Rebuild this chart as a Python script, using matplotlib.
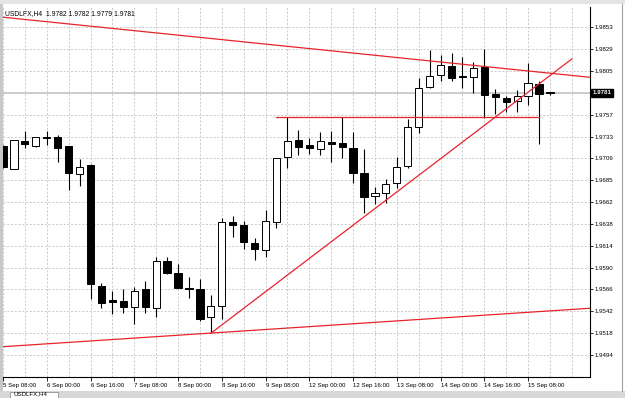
import matplotlib

matplotlib.use("Agg")
import matplotlib.pyplot as plt
import numpy as np
from matplotlib.patches import Rectangle

# ---- data: USDLFX H4 candles (bar index = position on chart) ----
opens = [1.97230, 1.96981, 1.97284, 1.97230, 1.97325, 1.97332, 1.97230, 1.96923, 1.97021, 1.95699,
         1.95543, 1.95532, 1.95469, 1.95660, 1.95452, 1.95973, 1.95835, 1.95676, 1.95660, 1.95353,
         1.95477, 1.96400, 1.96364, 1.96170, 1.96090, 1.96400, 1.97106, 1.97295, 1.97241, 1.97197,
         1.97270, 1.97259, 1.97211, 1.96931, 1.96682, 1.96711, 1.96828, 1.97010, 1.97435, 1.97873,
         1.98007, 1.98106, 1.97996, 1.97989, 1.98098, 1.97799, 1.97759, 1.97723, 1.97777, 1.97906,
         1.97820]
highs = [1.97240, 1.97300, 1.97390, 1.97330, 1.97389, 1.97350, 1.97230, 1.97084, 1.97029, 1.95726,
         1.95641, 1.95660, 1.95688, 1.95751, 1.96017, 1.96010, 1.95937, 1.95791, 1.95773, 1.95597,
         1.96438, 1.96463, 1.96411, 1.96225, 1.96529, 1.97098, 1.97544, 1.97405, 1.97321, 1.97380,
         1.97394, 1.97551, 1.97380, 1.97193, 1.96777, 1.96868, 1.97112, 1.97522, 1.97978, 1.98281,
         1.98227, 1.98252, 1.98208, 1.98153, 1.98289, 1.97851, 1.97777, 1.97843, 1.98142, 1.97945,
         1.97820]
lows = [1.96990, 1.96975, 1.97205, 1.97220, 1.97241, 1.97051, 1.96748, 1.96795, 1.95550, 1.95458,
        1.95386, 1.95397, 1.95276, 1.95397, 1.95360, 1.95827, 1.95674, 1.95568, 1.95316, 1.95181,
        1.95334, 1.96229, 1.96101, 1.95981, 1.96017, 1.96335, 1.96985, 1.97131, 1.97142, 1.97131,
        1.97051, 1.97095, 1.96828, 1.96492, 1.96594, 1.96609, 1.96766, 1.96985, 1.97369, 1.97860,
        1.97942, 1.97942, 1.97862, 1.97807, 1.97533, 1.97577, 1.97605, 1.97605, 1.97679, 1.97248,
        1.97790]
closes = [1.97000, 1.97295, 1.97248, 1.97325, 1.97314, 1.97204, 1.96937, 1.96996, 1.95718, 1.95506,
          1.95521, 1.95463, 1.95645, 1.95463, 1.95973, 1.95842, 1.95677, 1.95666, 1.95334, 1.95480,
          1.96394, 1.96364, 1.96181, 1.96098, 1.96408, 1.97095, 1.97284, 1.97222, 1.97204, 1.97284,
          1.97252, 1.97222, 1.96931, 1.96674, 1.96711, 1.96813, 1.96996, 1.97441, 1.97862, 1.97996,
          1.98117, 1.97978, 1.97982, 1.98087, 1.97788, 1.97763, 1.97715, 1.97781, 1.97917, 1.97799,
          1.97810]

time_ticks = [0, 4, 8, 12, 16, 20, 24, 28, 32, 36, 40, 44, 48]
time_labels = ["5 Sep 08:00", "6 Sep 00:00", "6 Sep 16:00", "7 Sep 08:00", "8 Sep 00:00",
               "8 Sep 16:00", "9 Sep 08:00", "12 Sep 00:00", "12 Sep 16:00", "13 Sep 08:00",
               "14 Sep 00:00", "14 Sep 16:00", "15 Sep 08:00"]
price_labels = ["1.9853", "1.9829", "1.9805", "1.9781", "1.9757", "1.9733", "1.9709", "1.9685",
                "1.9662", "1.9638", "1.9614", "1.9590", "1.9566", "1.9542", "1.9518", "1.9494"]
price_top, price_step = 1.9853, 0.0359 / 15

# trendlines: (bar index, price) pairs
trend_down = ([0, 53.66], [1.98640, 1.97982])
trend_low = ([0, 53.66], [1.95031, 1.95452])
trend_up = ([19, 52], [1.95178, 1.98183])
level = ([25, 49], [1.97547, 1.97547])

bid = 1.9781
title = "USDLFX,H4  1.9782 1.9782 1.9779 1.9781"

# ---- figure ----
W, H = 625, 398
fig = plt.figure(figsize=(W / 100, H / 100), dpi=100)
fig.patch.set_facecolor("white")
ax = fig.add_axes([3 / W, 1 - 377 / H, 587 / W, 370 / H])
ax.set_xlim(0, 53.66)
ax.set_ylim(1.94699, 1.98752)
ax.set_facecolor("white")

fnt = dict(family="Liberation Sans", size=4.4)

# grid
yt = [price_top - k * price_step for k in range(len(price_labels))]
ax.set_yticks(yt)
ax.set_yticklabels(price_labels, **fnt)
ax.set_xticks(time_ticks)
ax.set_xticklabels(time_labels, **fnt)
ax.set_xticks(np.arange(0, 54, 2), minor=True)
ax.grid(True, which="both", color="#c4c4c4", linestyle=(0, (2.5, 2)), linewidth=0.6, zorder=0)
ax.yaxis.tick_right()
ax.tick_params(axis="y", which="major", length=2, width=0.6, pad=1, direction="out")
ax.tick_params(axis="x", which="major", length=3, width=0.6, pad=1.5, direction="out")
ax.tick_params(axis="both", which="minor", length=0)
for lbl in ax.get_xticklabels():
    lbl.set_ha("left")
for side in ["top", "left"]:
    ax.spines[side].set_visible(False)
for side in ["right", "bottom"]:
    ax.spines[side].set_linewidth(0.8)

# bid line
ax.axhline(bid, color="#cccccc", lw=1.3, zorder=1)

# candles
idx = np.arange(len(opens))
o, h, l, c = map(np.array, (opens, highs, lows, closes))
ax.vlines(idx, l, h, color="black", lw=0.8, zorder=2)
bw = 0.66
for i in idx:
    lo, hi = min(o[i], c[i]), max(o[i], c[i])
    up = c[i] >= o[i]
    hgt = max(hi - lo, 0.00004)
    ax.add_patch(Rectangle((i - bw / 2, lo), bw, hgt,
                           facecolor="white" if up else "black",
                           edgecolor="black", lw=0.7, zorder=3))

# trendlines
red = "#e8232a"
for xs, ys in (trend_down, trend_low, trend_up, level):
    ax.plot(xs, ys, color=red, lw=0.9, zorder=4, clip_on=True)

# title
ax.text(0.004, 0.981, title, transform=ax.transAxes, ha="left", va="center",
        color="black", family="Liberation Sans", size=4.9)

# price tag
ax.annotate("1.9781", xy=(1.0, bid), xycoords=("axes fraction", "data"),
            xytext=(2, 0), textcoords="offset points", ha="left", va="center",
            color="white", fontweight="bold", family="Liberation Sans", size=4.4,
            bbox=dict(boxstyle="square,pad=0.25", fc="black", ec="black"),
            annotation_clip=False, zorder=10)

# window chrome
fig.patches.append(Rectangle((0, 0), 3 / W, 1, transform=fig.transFigure,
                             fc="#c8c8c8", ec="none", zorder=-1))
fig.patches.append(Rectangle((0, 1 - 4 / H), 1, 4 / H, transform=fig.transFigure,
                             fc="#e4e4e4", ec="none", zorder=-1))
fig.patches.append(Rectangle((0, 0), 1, 7 / H, transform=fig.transFigure,
                             fc="#d8d8d8", ec="none", zorder=-1))
fig.patches.append(Rectangle((10 / W, 0), 48 / W, 6 / H, transform=fig.transFigure,
                             fc="white", ec="#909090", lw=0.6, zorder=0))
fig.text(14 / W, 2 / H, "USDLFX,H4", ha="left", va="bottom", color="black", **fnt)
fig.lines.append(plt.Line2D([622 / W, 622 / W], [7 / H, 1 - 4 / H], transform=fig.transFigure,
                            color="#a0a0a0", lw=0.8))

fig.savefig("out.png", dpi=100)
